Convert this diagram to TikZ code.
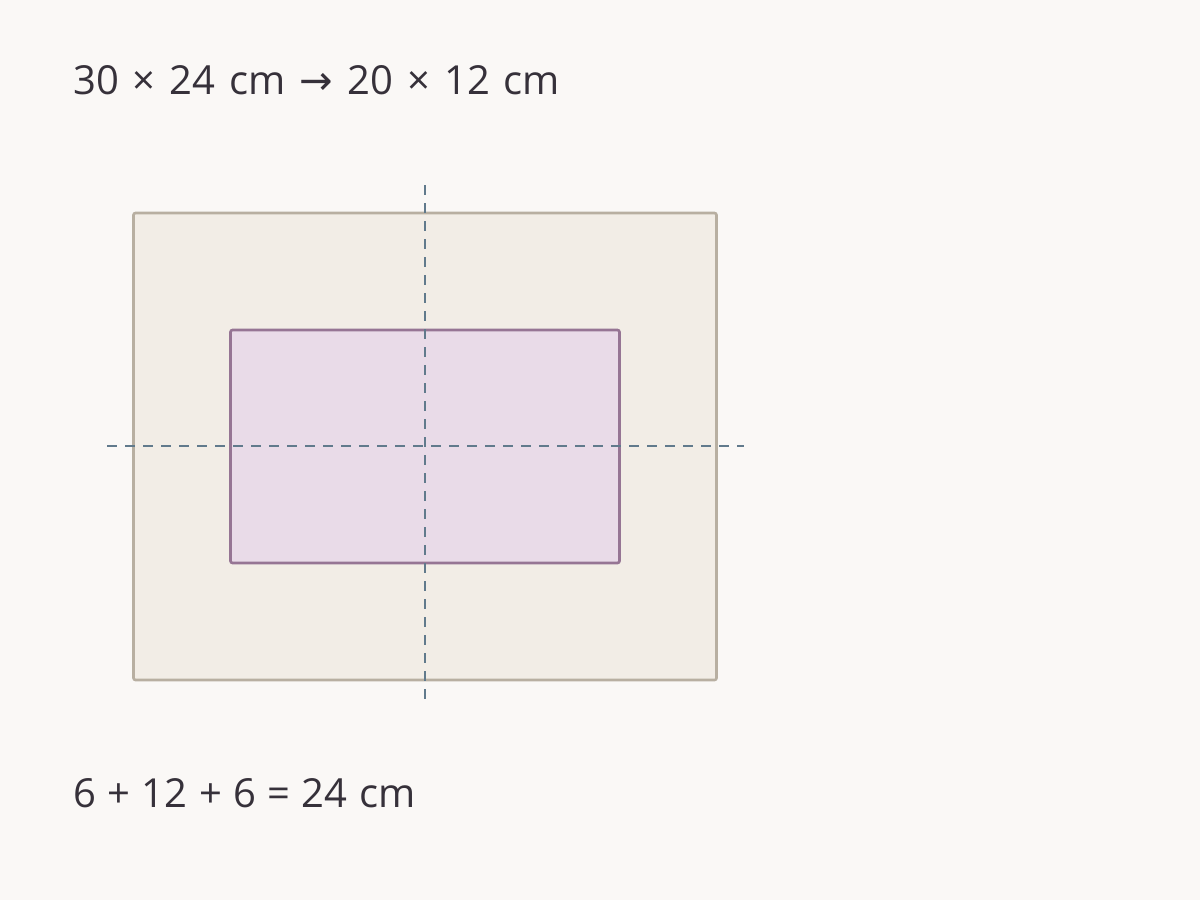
\documentclass[tikz,border=0pt]{standalone}
\usepackage{fontspec}
\setmainfont{Open Sans}
\newfontfamily\arrowfont{DejaVu Sans}
\usepackage{xcolor}
\usetikzlibrary{positioning}

\definecolor{paper}{HTML}{FAF8F6}
\definecolor{framefill}{HTML}{F2EDE6}
\definecolor{framedraw}{HTML}{B8AFA1}
\definecolor{matfill}{HTML}{E9DBE8}
\definecolor{matdraw}{HTML}{967594}
\definecolor{axisblue}{HTML}{617A8C}
\definecolor{ink}{HTML}{36313A}

\begin{document}
\begin{tikzpicture}[
  x=1pt,
  y=-1pt,
  sheet/.style={
    rectangle,
    draw=framedraw,
    fill=framefill,
    line width=2.6pt,
    rounded corners=2pt,
    inner sep=0pt
  },
  inset/.style={
    rectangle,
    draw=matdraw,
    fill=matfill,
    line width=2.6pt,
    rounded corners=2pt,
    inner sep=0pt
  },
  axis/.style={
    draw=axisblue,
    line width=2.6pt,
    dash pattern=on 10pt off 8pt
  },
  caption/.style={
    anchor=base west,
    inner sep=0pt,
    text=ink,
    font=\fontsize{40}{48}\selectfont
  }
]

  % Background
  \fill[paper] (0,0) rectangle (1200,900);

  % Title
  \node[caption] (title) at (73,94) {\spaceskip=1.35\fontdimen2\font 30 × 24 cm {\arrowfont →} 20 × 12 cm};

  % Outer sheet and inner print
  \node[sheet, minimum width=583pt, minimum height=467pt] (outer) at (425,446.5) {};
  \node[inset, minimum width=389pt, minimum height=233pt] (inner) at (425,446.5) {};

  % Centre lines
  \coordinate (vtop) at (425,185);
  \coordinate (vbot) at (425,701);
  \coordinate (hleft) at (107,446);
  \coordinate (hright) at (744,446);
  \draw[axis] (vtop) -- (vbot);
  \draw[axis] (hleft) -- (hright);

  % Sum
  \node[caption] (sum) at (73,807) {\spaceskip=1.1\fontdimen2\font 6 + 12 + 6 = 24 cm};

\end{tikzpicture}
\end{document}
